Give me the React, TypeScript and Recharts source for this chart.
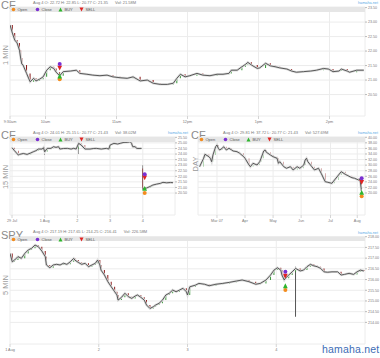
import React from "react";
import { ComposedChart, Line, Bar, Cell, Scatter, XAxis, YAxis, CartesianGrid } from "recharts";

const FONT = '"Liberation Sans", Arial, Helvetica, sans-serif';
const UP = "#3f9b3f";
const DOWN = "#8e1f1f";

type Pt = [number, number];

// CF 1 MIN — x = minutes after 9:30
const cf1m: Pt[] = [
  [0, 22.9], [2, 22.62], [4, 22.38], [6, 22.28], [8, 22.03], [9, 21.76], [10, 21.55], [11, 21.52], [14, 21.23], [17, 20.94],
  [20, 21.06], [22, 20.97], [25, 21.03], [28, 21.11], [31, 21.34], [34, 21.46], [37, 21.4], [39, 21.27], [42, 21.15], [45, 21.29],
  [51, 21.31], [56, 21.34], [59, 21.23], [65, 21.2], [70, 21.17], [76, 21.15], [82, 21.17], [87, 21.11], [93, 21.08], [99, 21.06],
  [104, 21.11], [110, 20.97], [116, 21.0], [121, 20.89], [127, 20.85], [133, 20.85], [138, 20.89], [141, 21.06], [144, 21.2], [148, 21.11],
  [152, 21.15], [158, 21.23], [163, 21.17], [169, 21.15], [175, 21.2], [180, 21.2], [185, 21.23], [187, 21.34], [192, 21.34], [196, 21.46],
  [199, 21.54], [201, 21.61], [204, 21.52], [209, 21.4], [211, 21.42], [216, 21.58], [220, 21.49], [224, 21.46], [228, 21.42], [234, 21.38],
  [238, 21.31], [242, 21.27], [248, 21.29], [254, 21.31], [259, 21.34], [265, 21.4], [269, 21.38], [273, 21.29], [278, 21.31], [280, 21.38],
  [285, 21.31], [287, 21.27], [293, 21.34], [299, 21.34],
];
const cf1mTicks = [0, 30, 90, 150, 210, 270];
const cf1mLabels = ["9:30am", "10am", "11am", "12pm", "1pm", "2pm"];
const cf1mPrices = [20.5, 21, 21.5, 22, 22.5, 23, 23.5];
const cf1mSignal = { x: 42, open: 21.03, close: 21.55, buy: 21.14, sell: 21.41 };

// CF 15 MIN — x = bar index from 29 Jul open (26 bars a day)
const cf15: Pt[] = [
  [0, 24.57], [2, 24.3], [5, 23.91], [6, 23.97], [9, 24.05], [12, 23.97], [15, 24.1], [17, 24.21], [19, 24.3], [21, 24.45],
  [24, 24.45], [25, 24.57], [26, 24.2], [28, 24.51], [31, 24.51], [33, 24.66], [35, 24.6], [37, 24.66], [38, 24.45], [41, 24.5],
  [44, 24.51], [47, 24.45], [49, 24.51], [51, 24.45], [53, 24.96], [55, 24.81], [58, 24.45], [62, 24.45], [65, 24.5], [67, 24.51],
  [71, 24.45], [75, 24.51], [77, 24.45], [78, 24.81], [81, 24.96], [84, 24.9], [86, 24.96], [89, 25.05], [92, 25.05], [94, 25.11],
  [95, 24.96], [96, 24.66], [98, 24.66], [99, 24.51], [101, 24.5], [103, 24.51], [104, 20.92], [107, 20.95], [110, 21.1], [112, 21.22],
  [115, 21.3], [118, 21.37], [120, 21.46], [123, 21.42], [126, 21.45], [128, 21.43],
];
const cf15Gaps: Record<number, number> = { 104: 22.7 };
const cf15Wicks: Record<number, Pt> = { 26: [23.91, 24.6], 53: [24.0, 24.96], 104: [20.77, 23.0] };
const cf15Ticks = [0, 26, 52, 78, 104];
const cf15Labels = ["29 Jul", "1 Aug", "2", "3", "4"];
const cf15Prices = [20.5, 21, 21.5, 22, 22.5, 23, 23.5, 24, 24.5, 25, 25.5];
const cf15Signal = { x: 105.5, open: 20.5, close: 22.18, buy: 20.92, sell: 21.87 };

// CF DAY — x = trading day index (Apr 1 = 18)
const cfDay: Pt[] = [
  [-16, 29.44], [-13, 32.46], [-12, 33.9], [-9, 33.03], [-8, 32.46], [-7, 31.24], [-6, 33.64], [-4, 36.62], [-3, 37.24], [-2, 36.05],
  [-1, 35.44], [1, 36.05], [2, 36.62], [4, 35.44], [6, 36.05], [8, 35.44], [9, 35.08], [12, 34.83], [14, 34.25], [17, 33.03],
  [18, 32.46], [21, 30.05], [22, 29.44], [24, 30.66], [27, 30.05], [29, 31.24], [30, 32.46], [32, 35.08], [33, 35.44], [34, 34.61],
  [37, 33.64], [39, 33.03], [42, 32.46], [43, 30.66], [44, 31.24], [47, 29.44], [49, 28.87], [52, 29.44], [54, 28.26], [57, 29.44],
  [59, 28.87], [62, 30.05], [63, 31.85], [64, 32.46], [65, 31.24], [68, 29.44], [70, 28.26], [73, 28.87], [75, 27.07], [78, 24.06],
  [80, 23.84], [83, 23.48], [85, 24.67], [88, 26.46], [90, 27.65], [93, 26.71], [95, 26.21], [98, 25.49], [100, 25.28], [103, 24.67],
  [104, 25.03], [105, 21.43],
];
const cfDayWicks: Record<number, Pt> = { 105: [20.77, 25.5] };
const cfDayTicks = [-3, 18, 39, 60, 82, 102];
const cfDayLabels = ["Mar 07", "Apr", "May", "Jun", "Jul", "Aug"];
const cfDayPrices = [20, 22, 24, 26, 28, 30, 32, 34, 36, 38, 40];
const cfDaySignal = { x: 105.3, open: 18.8, close: 25.28, buy: 20.2, sell: 23.84 };

// SPY 5 MIN — x = bar index from 1 Aug open (78 bars a day)
const spy5m: Pt[] = [
  [0, 217.22], [2, 216.83], [4, 216.91], [7, 217.07], [10, 216.99], [13, 217.22], [16, 217.38], [19, 217.46], [22, 217.61], [25, 217.53],
  [28, 217.33], [31, 217.07], [32, 216.68], [35, 216.55], [38, 216.68], [41, 216.71], [44, 216.68], [47, 216.76], [50, 216.71], [53, 216.83],
  [56, 216.99], [57, 216.91], [60, 216.8], [63, 216.71], [66, 216.76], [69, 216.6], [72, 216.68], [75, 216.76], [77, 216.91], [79, 216.68],
  [80, 216.44], [83, 216.21], [86, 215.9], [89, 215.66], [92, 215.43], [94, 215.28], [95, 215.04], [98, 215.17], [101, 215.36], [104, 215.2],
  [107, 215.12], [110, 215.23], [112, 215.28], [115, 215.17], [118, 215.04], [120, 214.81], [123, 214.65], [126, 214.73], [128, 214.81], [131, 214.89],
  [134, 215.04], [137, 215.28], [140, 215.36], [143, 215.51], [146, 215.43], [149, 215.51], [152, 215.59], [155, 215.43], [156, 215.28], [158, 215.66],
  [163, 215.74], [166, 215.82], [171, 215.78], [175, 215.71], [181, 215.78], [187, 215.82], [193, 215.87], [199, 215.93], [204, 215.98], [210, 215.9],
  [216, 215.78], [220, 215.82], [225, 215.98], [229, 216.21], [232, 216.44], [235, 216.55], [238, 216.44], [239, 216.21], [241, 215.98], [242, 216.06],
  [245, 216.21], [248, 216.36], [251, 216.52], [255, 216.4], [258, 216.44], [261, 216.6], [264, 216.71], [267, 216.64], [270, 216.6], [273, 216.52],
  [276, 216.36], [279, 216.34], [283, 216.36], [288, 216.36], [291, 216.21], [294, 216.24], [298, 216.29], [302, 216.24], [305, 216.36], [308, 216.44],
  [311, 216.4],
];
const spyWicks: Record<number, Pt> = { 251: [214.26, 216.6] };
const spyTicks = [0, 78, 156, 234];
const spyLabels = ["1 Aug", "2", "3", "4"];
const spyPrices = [214, 214.5, 215, 215.5, 216, 216.5, 217, 217.5, 218];
const spySignal = { x: 242, open: 215.51, close: 216.36, buy: 215.71, sell: 216.16 };

type Candle = { x: number; c: number | null; body?: Pt; up?: boolean; wick?: Pt };

function buildCandles(pts: Pt[], gaps: Record<number, number> = {}, wicks: Record<number, Pt> = {}): Candle[] {
  const out: Candle[] = [];
  pts.forEach(([x, c], i) => {
    const gap = gaps[x];
    if (gap !== undefined) out.push({ x: x - 0.5, c: null, body: [c, c], wick: [c, c] });
    const o = gap ?? (i > 0 ? pts[i - 1][1] : c);
    out.push({ x, c, body: [Math.min(o, c), Math.max(o, c)], up: c >= o, wick: wicks[x] ?? [c, c] });
  });
  return out;
}

const tri = (color: string, down: boolean) => (p: any) => {
  const { cx, cy } = p;
  const s = 2.4;
  const pts = down
    ? `${cx - s},${cy - s} ${cx + s},${cy - s} ${cx},${cy + s}`
    : `${cx - s},${cy + s} ${cx + s},${cy + s} ${cx},${cy - s}`;
  return <polygon points={pts} fill={color} />;
};
const dotShape = (color: string) => (p: any) => <circle cx={p.cx} cy={p.cy} r={2} fill={color} />;

type Signal = { x: number; open: number; close: number; buy: number; sell: number };

interface PanelProps {
  left: number; top: number; width: number; height: number;
  plotLeft: number; plotTop: number; xAxisH: number;
  title: string; info: string; vol: string; side: string; sideY: number;
  candles: Candle[]; xDomain: [number, number]; xTicks: number[]; xLabels: string[];
  yDomain: [number, number]; yTicks: number[]; signal: Signal; barW: number;
}

function Legend() {
  const items = [
    { name: "Open", icon: <circle cx={2.5} cy={2.5} r={1.8} fill="#f28c1e" />, w: 24 },
    { name: "Close", icon: <circle cx={2.5} cy={2.5} r={1.8} fill="#7b2fd1" />, w: 23 },
    { name: "BUY", icon: <polygon points="0.5,4.5 4.5,4.5 2.5,0.5" fill="#2db52d" />, w: 21 },
    { name: "SELL", icon: <polygon points="0.5,0.5 4.5,0.5 2.5,4.5" fill="#e02222" />, w: 22 },
  ];
  return (
    <div style={{ display: "flex", alignItems: "center", height: "100%", paddingLeft: 1 }}>
      {items.map((it) => (
        <div key={it.name} style={{ width: it.w, display: "flex", alignItems: "center" }}>
          <svg width={5} height={5} style={{ marginRight: 1.5 }}>{it.icon}</svg>
          <span>{it.name}</span>
        </div>
      ))}
    </div>
  );
}

function Panel(p: PanelProps) {
  const plotW = p.width - p.plotLeft - 15;
  const s = p.signal;
  return (
    <div style={{ position: "absolute", left: p.left, top: p.top, width: p.width, height: p.height }}>
      <ComposedChart width={p.width} height={p.height} data={p.candles}
        margin={{ top: p.plotTop, right: 0, bottom: 0, left: p.plotLeft }}>
        <CartesianGrid stroke="#ececec" />
        <XAxis type="number" dataKey="x" domain={p.xDomain} ticks={p.xTicks} interval={0} allowDataOverflow
          tickFormatter={(v: number) => p.xLabels[p.xTicks.indexOf(v)] ?? ""}
          height={p.xAxisH} tickSize={3} tickMargin={1} axisLine={false} tickLine={{ stroke: "#d4d4d4" }}
          tick={{ fontSize: 3.8, fill: "#7a7a7a", fontFamily: FONT }} />
        <XAxis xAxisId="w" type="number" dataKey="x" domain={p.xDomain} hide allowDataOverflow />
        <YAxis orientation="right" width={15} domain={p.yDomain} ticks={p.yTicks} interval={0} allowDataOverflow
          tickFormatter={(v: number) => v.toFixed(2)} tickSize={2} tickMargin={1} axisLine={false}
          tickLine={{ stroke: "#bbb" }} tick={{ fontSize: 3.6, fill: "#7a7a7a", fontFamily: FONT, textAnchor: "start" }} />
        <Line dataKey="c" stroke="#dcdcdc" strokeWidth={2.4} dot={false} connectNulls={false} isAnimationActive={false} />
        <Line dataKey="c" stroke="#4a4a4a" strokeWidth={0.9} dot={false} connectNulls={false} isAnimationActive={false} />
        <Bar dataKey="wick" xAxisId="w" barSize={1} fill="#555" isAnimationActive={false} />
        <Bar dataKey="body" barSize={p.barW} isAnimationActive={false}>
          {p.candles.map((d, i) => <Cell key={i} fill={d.up ? UP : DOWN} />)}
        </Bar>
        <Scatter data={[{ x: s.x, v: s.open }]} dataKey="v" shape={dotShape("#f28c1e")} isAnimationActive={false} />
        <Scatter data={[{ x: s.x, v: s.buy }]} dataKey="v" shape={tri("#2db52d", false)} isAnimationActive={false} />
        <Scatter data={[{ x: s.x, v: s.sell }]} dataKey="v" shape={tri("#e02222", true)} isAnimationActive={false} />
        <Scatter data={[{ x: s.x, v: s.close }]} dataKey="v" shape={dotShape("#7b2fd1")} isAnimationActive={false} />
      </ComposedChart>
      <div style={{ position: "absolute", left: 1, top: Math.max(0, p.plotTop - 7), fontSize: 11, lineHeight: "11px", color: "#8a8a8a" }}>{p.title}</div>
      <div style={{ position: "absolute", left: 33, top: p.plotTop - 6.5, fontSize: 4, lineHeight: "4px", color: "#777", whiteSpace: "nowrap" }}>
        {p.info}<span style={{ marginLeft: 7 }}>{p.vol}</span>
      </div>
      <div style={{ position: "absolute", right: 2, top: p.plotTop - 6, fontSize: 3.8, lineHeight: "4px", color: "#5aaae6" }}>hamaha.net</div>
      <div style={{ position: "absolute", left: p.plotLeft, top: p.plotTop + 0.3, width: plotW, height: 4.6,
        background: "#e6e6e6", fontSize: 4, color: "#555" }}>
        <Legend />
      </div>
      <div style={{ position: "absolute", left: 5, top: p.sideY, transform: "translate(-50%, -50%) rotate(-90deg)",
        fontSize: 7.5, color: "#9a9a9a", whiteSpace: "nowrap" }}>{p.side}</div>
    </div>
  );
}

export default function App() {
  return (
    <div style={{ position: "absolute", left: 0, top: 0, width: 380, height: 358, background: "#fff", fontFamily: FONT, overflow: "hidden" }}>
      <Panel left={0} top={0} width={380} height={128} plotLeft={10} plotTop={7} xAxisH={12}
        title="CF" info="Aug 4 O: 22.72 H: 22.85 L: 20.77 C: 21.35" vol="Vol: 21.58M" side="1 MIN" sideY={55}
        candles={buildCandles(cf1m)} xDomain={[0, 300]} xTicks={cf1mTicks} xLabels={cf1mLabels}
        yDomain={[19.76, 23.52]} yTicks={cf1mPrices} signal={cf1mSignal} barW={1.6} />
      <Panel left={0} top={128} width={190} height={100} plotLeft={10} plotTop={9} xAxisH={13}
        title="CF" info="Aug 4 O: 24.01 H: 25.15 L: 20.77 C: 21.43" vol="Vol: 38.02M" side="15 MIN" sideY={49}
        candles={buildCandles(cf15, cf15Gaps, cf15Wicks)} xDomain={[-1.6, 129.6]} xTicks={cf15Ticks} xLabels={cf15Labels}
        yDomain={[18.53, 25.53]} yTicks={cf15Prices} signal={cf15Signal} barW={1.3} />
      <Panel left={190} top={128} width={190} height={100} plotLeft={8} plotTop={9} xAxisH={13}
        title="CF" info="Aug 4 O: 29.81 H: 37.72 L: 20.77 C: 21.43" vol="Vol: 527.69M" side="DAY" sideY={36}
        candles={buildCandles(cfDay, {}, cfDayWicks)} xDomain={[-17.2, 107.8]} xTicks={cfDayTicks} xLabels={cfDayLabels}
        yDomain={[12.1, 40.1]} yTicks={cfDayPrices} signal={cfDaySignal} barW={1.4} />
      <Panel left={0} top={228} width={380} height={130} plotLeft={10} plotTop={8.5} xAxisH={14}
        title="SPY" info="Aug 4 O: 217.19 H: 217.65 L: 214.25 C: 216.41" vol="Vol: 226.58M" side="5 MIN" sideY={57}
        candles={buildCandles(spy5m, {}, spyWicks)} xDomain={[0, 312]} xTicks={spyTicks} xLabels={spyLabels}
        yDomain={[212.99, 218.01]} yTicks={spyPrices} signal={spySignal} barW={1.3} />
      <div style={{ position: "absolute", left: 322, top: 343, fontSize: 10.5, color: "#3d6cb5", letterSpacing: 0.2 }}>hamaha.net</div>
    </div>
  );
}
